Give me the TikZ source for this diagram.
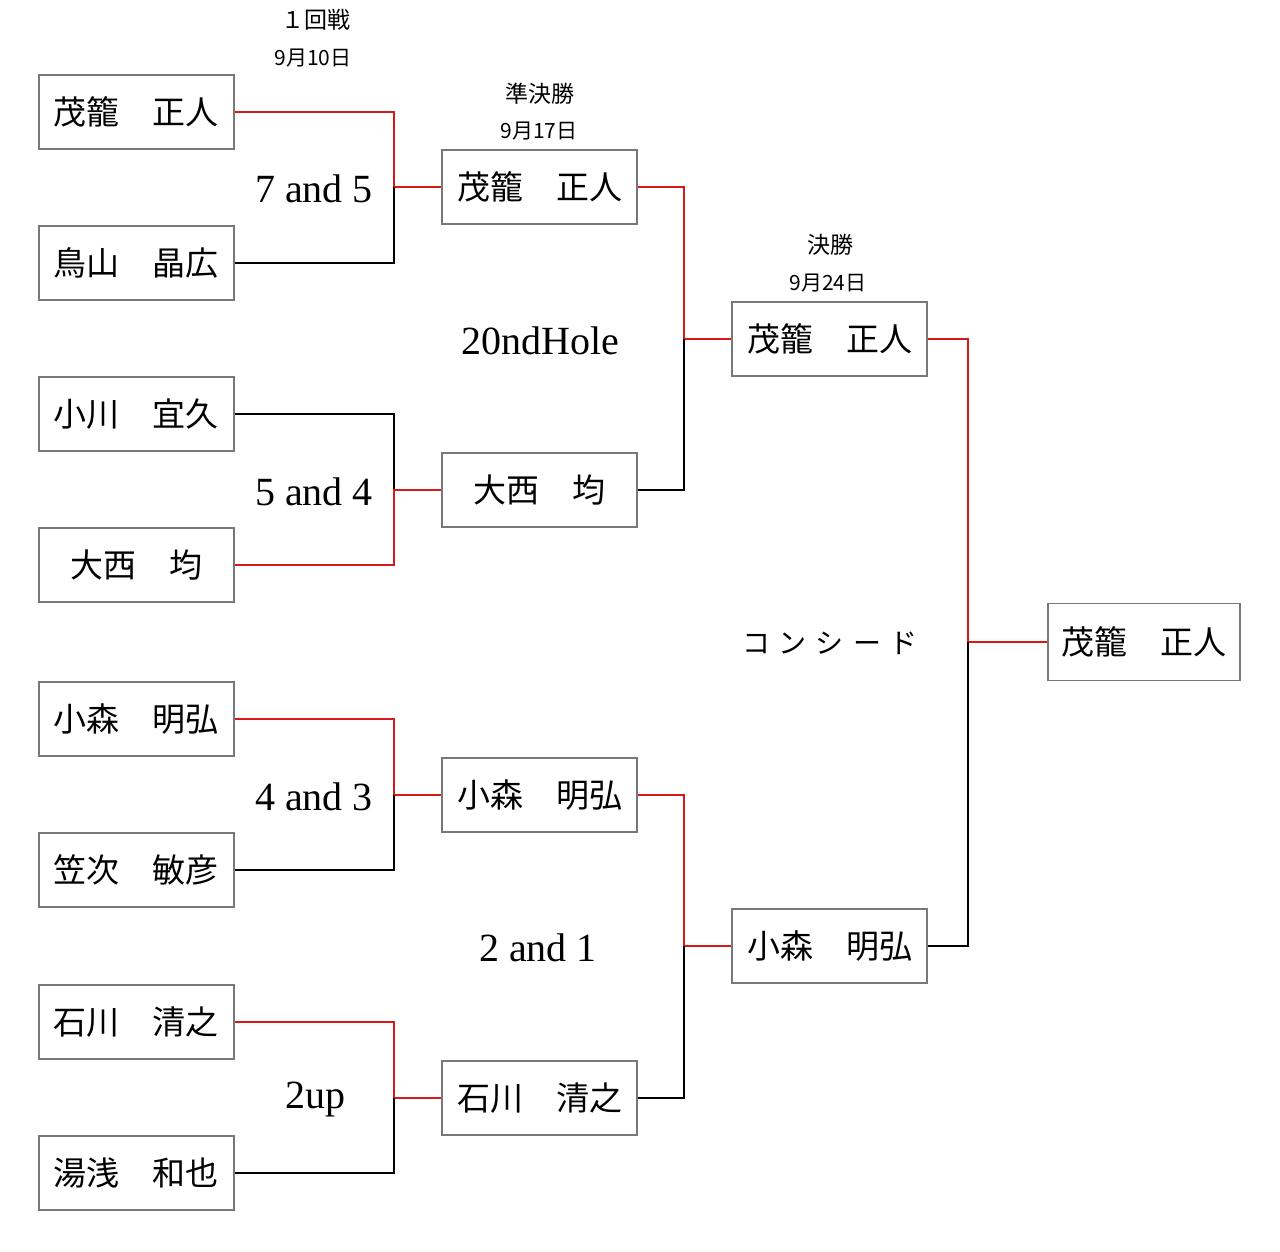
\documentclass[tikz,border=0pt]{standalone}
\usepackage{fontspec}
\setmainfont{Liberation Serif}
\newfontfamily\cjk{Noto Sans CJK JP}
\definecolor{winred}{RGB}{215,25,25}
\definecolor{boxgray}{RGB}{120,120,120}
\begin{document}
\begin{tikzpicture}[x=0.5pt,y=-0.5pt,
  player/.style={draw=boxgray,line width=0.7pt,minimum width=97.5pt,minimum height=37pt,inner sep=0pt,
    font=\cjk\fontsize{16.5pt}{16.5pt}\selectfont},
  score/.style={font=\fontsize{20pt}{20pt}\selectfont,inner sep=0pt},
  head/.style={font=\cjk\fontsize{11.5pt}{12pt}\selectfont,inner sep=0pt},
  date/.style={font=\cjk\fontsize{10.5pt}{12pt}\selectfont,inner sep=0pt},
  win/.style={draw=winred,line width=0.75pt},
  lose/.style={draw=black,line width=0.75pt}]
\useasboundingbox (0,0) rectangle (1280,1252);
% round 1
\node[player] (a1) at (136.5,112) {茂籠　正人};
\node[player] (a2) at (136.5,263) {鳥山　晶広};
\node[player] (a3) at (136.5,414) {小川　宜久};
\node[player] (a4) at (136.5,565) {大西　均};
\node[player] (a5) at (136.5,719) {小森　明弘};
\node[player] (a6) at (136.5,870) {笠次　敏彦};
\node[player] (a7) at (136.5,1022) {石川　清之};
\node[player] (a8) at (136.5,1173) {湯浅　和也};
% semifinal
\node[player] (b1) at (539.5,187) {茂籠　正人};
\node[player] (b2) at (539.5,490) {大西　均};
\node[player] (b3) at (539.5,795) {小森　明弘};
\node[player] (b4) at (539.5,1098) {石川　清之};
% final
\node[player] (c1) at (829.5,339) {茂籠　正人};
\node[player] (c2) at (829.5,946) {小森　明弘};
% champion
\node[player,minimum width=96pt,minimum height=38.5pt] (d1) at (1144,642) {茂籠　正人};
% junctions
\coordinate (j1) at (394,187);
\coordinate (j2) at (394,490);
\coordinate (j3) at (394,795);
\coordinate (j4) at (394,1098);
\coordinate (k1) at (684,339);
\coordinate (k2) at (684,946);
\coordinate (m1) at (968,642);
% connectors
\draw[win] (a1.east) -| (j1) -- (b1.west);
\draw[lose] (a2.east) -| (j1);
\draw[lose] (a3.east) -| (j2);
\draw[win] (a4.east) -| (j2) -- (b2.west);
\draw[win] (a5.east) -| (j3) -- (b3.west);
\draw[lose] (a6.east) -| (j3);
\draw[win] (a7.east) -| (j4) -- (b4.west);
\draw[lose] (a8.east) -| (j4);
\draw[win] (b1.east) -| (k1) -- (c1.west);
\draw[lose] (b2.east) -| (k1);
\draw[win] (b3.east) -| (k2) -- (c2.west);
\draw[lose] (b4.east) -| (k2);
\draw[win] (c1.east) -| (m1) -- (d1.west);
\draw[lose] (c2.east) -| (m1);
% scores
\node[score] (s1) at (314,189) {7 and 5};
\node[score] (s2) at (314,492) {5 and 4};
\node[score] (s3) at (314,797) {4 and 3};
\node[score] (s4) at (315,1100) {2up};
\node[score] (s5) at (540,341) {20ndHole};
\node[score] (s6) at (538,948) {2 and 1};
\node[font=\cjk\fontsize{14pt}{14pt}\selectfont,inner sep=0pt] (s7) at (830,643) {コ\hspace{4.5pt}ン\hspace{4.5pt}シ\hspace{4.5pt}ー\hspace{4.5pt}ド};
% headers
\node[head] (h1) at (316,20) {１回戦};
\node[date] (t1) at (313,58) {9月10日};
\node[head] (h2) at (540,94) {準決勝};
\node[date] (t2) at (539,131) {9月17日};
\node[head] (h3) at (830,245) {決勝};
\node[date] (t3) at (828,283) {9月24日};
\end{tikzpicture}
\end{document}
